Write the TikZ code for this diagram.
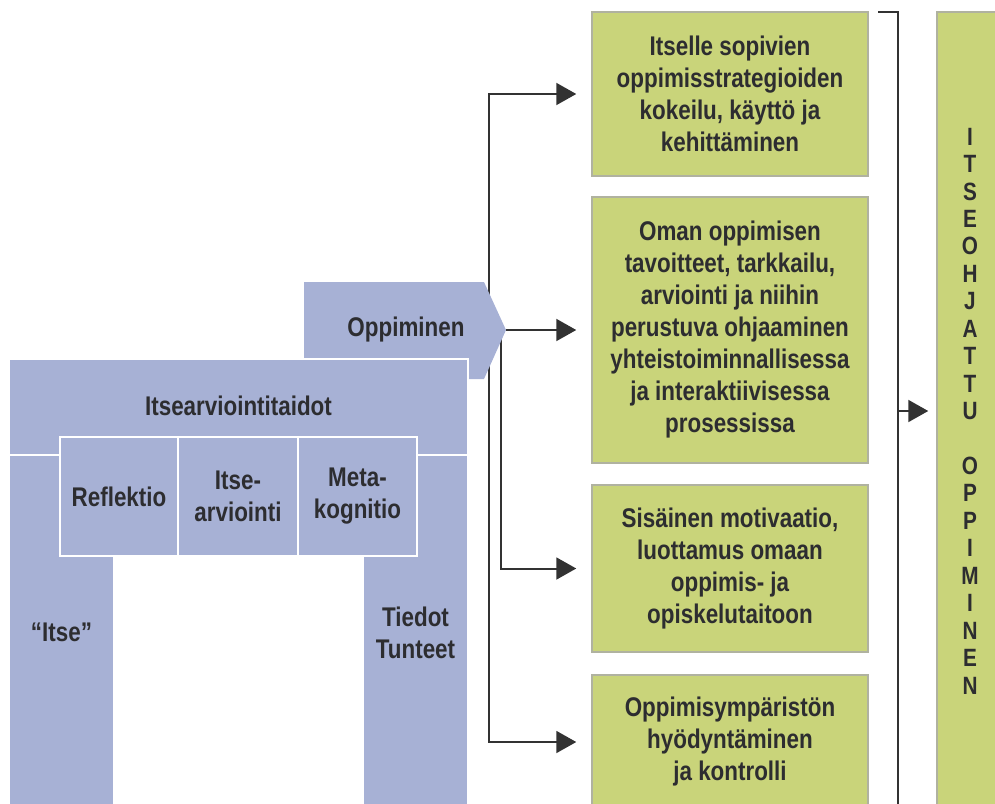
\documentclass[tikz,border=0pt]{standalone}
\usepackage{fontspec}
\setmainfont{Liberation Sans}[FakeStretch=0.83]
\usetikzlibrary{arrows.meta}

\definecolor{pillar}{RGB}{167,177,213}
\definecolor{leaf}{RGB}{201,212,122}
\definecolor{leafedge}{RGB}{176,178,160}
\definecolor{ink}{RGB}{45,45,48}
\definecolor{wire}{RGB}{50,50,50}

\begin{document}
\begin{tikzpicture}[x=1pt,y=-1pt,
  lbl/.style={font=\fontsize{27}{32}\selectfont\bfseries, text=ink, align=center, inner sep=0pt},
  bluebox/.style={lbl, fill=pillar, draw=white, line width=2pt},
  greenbox/.style={lbl, fill=leaf, draw=leafedge, line width=1.5pt},
  wireline/.style={draw=wire, line width=2pt},
  arr/.style={wireline, -{Triangle[length=20pt,width=22pt]}},
]
\clip (0,0) rectangle (995,803);

% green outcome boxes
\node[greenbox, minimum width=276pt, minimum height=164pt] (g1) at (730,94)
  {Itselle sopivien\\oppimisstrategioiden\\kokeilu, käyttö ja\\kehittäminen};
\node[greenbox, minimum width=276pt, minimum height=266pt] (g2) at (730,330)
  {Oman oppimisen\\tavoitteet, tarkkailu,\\arviointi ja niihin\\perustuva ohjaaminen\\yhteistoiminnallisessa\\ja interaktiivisessa\\prosessissa};
\node[greenbox, minimum width=276pt, minimum height=167pt] (g3) at (730,568.5)
  {Sisäinen motivaatio,\\luottamus omaan\\oppimis- ja\\opiskelutaitoon};
\node[greenbox, minimum width=276pt, minimum height=134pt] (g4) at (730,742)
  {Oppimisympäristön\\hyödyntäminen\\ja kontrolli};

% result column
\node[greenbox, minimum width=66pt, minimum height=798pt,
      font=\fontsize{25}{27.45}\selectfont\bfseries] (goal) at (970,411)
  {I\\T\\S\\E\\O\\H\\J\\A\\T\\T\\U\\[27.45pt]O\\P\\P\\I\\M\\I\\N\\E\\N};

% branching connectors from the learning arrow
\coordinate (hubA) at (489,379);
\coordinate (hubB) at (501,330);
\coordinate (tip) at (506,330);
\draw[arr, shorten >=15pt] (hubA) |- (g1.west);
\draw[arr, shorten >=15pt] (hubA) |- (g4.west);
\draw[arr, shorten >=15pt] (hubB) |- (g3.west);
\draw[arr, shorten >=15pt] (tip) -- (g2.west);

% bracket collecting the outcomes
\coordinate (brTop) at (878,12);
\coordinate (brFoot) at (898,810);
\coordinate (brMid) at (898,411);
\draw[wireline] (brTop) -| (brFoot);
\draw[arr, shorten >=8pt] (brMid) -- (goal.west);

% learning arrow
\fill[pillar] (304,282) -- (484,282) -- (506,330) -- (484,379) -- (304,379) -- cycle;
\node[lbl] (opp) at (406,330) {Oppiminen};

% pillars
\node[bluebox, minimum width=105pt, minimum height=355pt] (lp) at (61.5,632.5) {“Itse”};
\node[bluebox, minimum width=105pt, minimum height=355pt] (rp) at (415.5,632.5) {Tiedot\\Tunteet};

% lintel
\node[bluebox, minimum width=459pt, minimum height=96pt] (isa) at (238.5,407) {\raisebox{2pt}{Itsearviointitaidot}};

% skill boxes
\node[bluebox, minimum width=118pt, minimum height=119pt] (s1) at (119,496.5) {Reflektio};
\node[bluebox, minimum width=120pt, minimum height=119pt] (s2) at (238,496.5) {Itse-\\arviointi};
\node[bluebox, minimum width=119pt, minimum height=119pt] (s3) at (357.5,496.5) {Meta-\\kognitio};
\end{tikzpicture}
\end{document}
